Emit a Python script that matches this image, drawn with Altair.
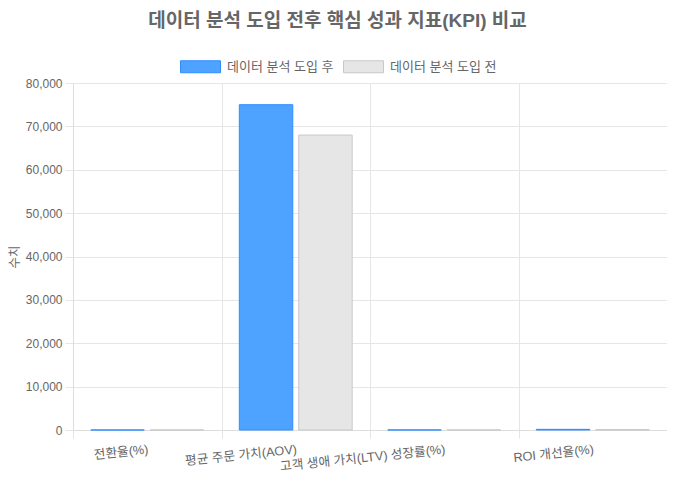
import altair as alt
import pandas as pd

categories = ["전환율(%)", "평균 주문 가치(AOV)", "고객 생애 가치(LTV) 성장률(%)", "ROI 개선율(%)"]
series = ["데이터 분석 도입 후", "데이터 분석 도입 전"]
after_values = [3.8, 75000, 25, 150]
before_values = [2.5, 68000, 10, 80]
fill_colors = ["#4da3ff", "#e6e6e6"]
stroke_colors = ["#2f8cff", "#c8c8c8"]
y_ticks = [0, 10000, 20000, 30000, 40000, 50000, 60000, 70000, 80000]

rows = []
for c, a, b in zip(categories, after_values, before_values):
    rows.append({"지표": c, "구분": series[0], "수치": a})
    rows.append({"지표": c, "구분": series[1], "수치": b})
df = pd.DataFrame(rows)

FONT = "Liberation Sans, Noto Sans CJK KR, sans-serif"
GRID = "#e6e6e6"
TXT = "#666666"

legend = alt.Legend(
    title=None, orient="none", legendX=107, legendY=-37, direction="horizontal",
    symbolType="M-1,-0.3H1V0.3H-1Z", symbolSize=1600, symbolStrokeWidth=1,
    labelFontSize=13, labelColor=TXT, labelFont=FONT, columnPadding=7,
    labelOffset=6, padding=0,
)

chart = alt.Chart(df).mark_bar(strokeWidth=1).encode(
    x=alt.X(
        "지표:N", sort=categories,
        scale=alt.Scale(paddingInner=0, paddingOuter=0),
        axis=alt.Axis(
            title=None, tickBand="extent", grid=True, gridColor=GRID,
            domainColor="#dddddd", tickColor=GRID, tickSize=8,
            labelAngle=354, labelAlign="right", labelBaseline="top",
            labelPadding=5, labelFontSize=12.7, labelColor=TXT, labelFont=FONT,
            labelOverlap=False, labelLimit=400,
        ),
    ),
    xOffset=alt.XOffset("구분:N", sort=series,
                        scale=alt.Scale(domain=series, paddingInner=0.1, paddingOuter=0.3)),
    y=alt.Y(
        "수치:Q", scale=alt.Scale(domain=[0, 80000], nice=False),
        axis=alt.Axis(
            values=y_ticks, format=",d", title="수치", grid=True, gridColor=GRID,
            domainColor="#dddddd", tickColor=GRID, tickSize=8, labelPadding=3,
            labelFontSize=12, labelColor=TXT, labelFont=FONT,
            titleFontSize=12.5, titleFontWeight="normal", titleColor=TXT, titleFont=FONT,
            titleX=-65, titleY=173.5, titleBaseline="top",
        ),
    ),
    fill=alt.Fill("구분:N", sort=series,
                  scale=alt.Scale(domain=series, range=fill_colors), legend=legend),
    stroke=alt.Stroke("구분:N", sort=series,
                      scale=alt.Scale(domain=series, range=stroke_colors), legend=legend),
).properties(
    width=594, height=347,
    autosize=alt.AutoSizeParams(type="none"),
    padding={"left": 65, "top": 75, "right": 0, "bottom": 44},
    title=alt.TitleParams(
        "데이터 분석 도입 전후 핵심 성과 지표(KPI) 비교",
        fontSize=19, fontWeight="bold", color=TXT, font=FONT,
        anchor="middle", frame="group", dx=-32.5, offset=15,
    ),
).configure_view(stroke=None).configure(background="white")

chart.save("out.html", embed_options={"renderer": "svg", "actions": False})
